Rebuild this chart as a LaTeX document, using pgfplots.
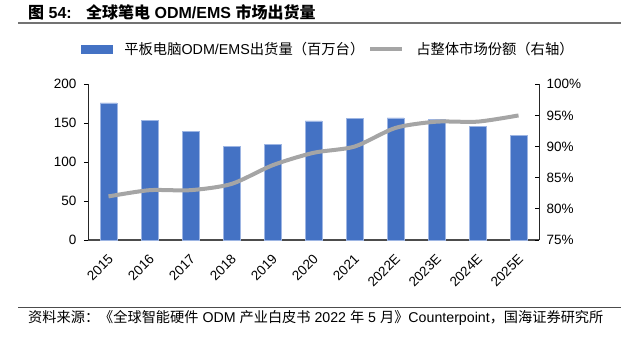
\documentclass[border=0pt]{standalone}
\usepackage{pgfplots}
\pgfplotsset{compat=1.18}
\usepackage{fontspec}
\setmainfont{Liberation Sans}
\newfontfamily\cjk{Noto Sans CJK SC}
\definecolor{barblue}{HTML}{4472C4}
\definecolor{baredge}{HTML}{9DB5E3}
\definecolor{linegray}{HTML}{A5A5A5}
\begin{document}
\begin{tikzpicture}
\useasboundingbox (0pt,0pt) rectangle (621pt,338pt);
% title
\node[anchor=west, inner sep=0pt, font=\fontsize{16}{18}\selectfont\bfseries] at (28pt,325.5pt)
  {{\cjk 图} 54:\hspace{0.9em}{\cjk 全球笔电} ODM/EMS {\cjk 市场出货量}};
\draw[color=black!55, line width=2pt] (18pt,315pt) -- (621pt,315pt);
% footer
\draw[color=black!70, line width=0.8pt] (18pt,30.8pt) -- (621pt,30.8pt);
\node[anchor=west, inner sep=0pt, font=\fontsize{14.2}{16}\selectfont] at (28pt,20pt)
  {{\cjk 资料来源：《全球智能硬件} ODM {\cjk 产业白皮书} 2022 {\cjk 年} 5 {\cjk 月》}Counterpoint{\cjk ，国海证券研究所}};
\begin{axis}[
  at={(88pt,98pt)}, anchor=south west, scale only axis,
  width=451pt, height=155.7pt,
  xmin=-0.5, xmax=10.5, ymin=0, ymax=200,
  ytick={0,50,100,150,200},
  xtick={0,...,10},
  xticklabels={2015,2016,2017,2018,2019,2020,2021,2022E,2023E,2024E,2025E},
  axis y line*=left, axis x line*=bottom,
  axis line style={black!85, line width=1pt, -},
  x axis line style={black!70, line width=1.2pt},
  major tick length=4pt,
  xtick style={draw=none},
  ytick style={black, line width=0.8pt},
  tick align=outside,
  /pgf/number format/assume math mode=true,
  tick label style={font=\fontsize{13.5}{16}\selectfont},
  yticklabel style={xshift=-4pt},
  xticklabel style={xshift=3pt, yshift=-12pt, rotate=45, anchor=east, inner sep=1pt},
  clip=false,
]
\addplot[ybar, bar width=16.7pt, fill=barblue, draw=baredge, line width=0.4pt]
  coordinates {(0,176) (1,154) (2,140) (3,120) (4,123) (5,153) (6,156) (7,157) (8,155) (9,146) (10,134)};
\end{axis}
\begin{axis}[
  at={(88pt,98pt)}, anchor=south west, scale only axis,
  width=451pt, height=155.7pt,
  xmin=-0.5, xmax=10.5, ymin=75, ymax=100,
  ytick={75,80,85,90,95,100},
  yticklabel={\pgfmathprintnumber{\tick}\%},
  axis y line*=right, axis x line=none,
  axis line style={black!85, line width=1pt, -},
  major tick length=4pt,
  ytick style={black, line width=0.8pt},
  tick align=inside,
  /pgf/number format/assume math mode=true,
  tick label style={font=\fontsize{13.5}{16}\selectfont},
  yticklabel style={xshift=4pt},
  clip=false,
  legend style={at={(rel axis cs:-0.016,1.227)}, anchor=west, draw=none, fill=none,
    inner sep=0pt, legend columns=2, font=\fontsize{14.3}{16}\selectfont,
    /tikz/every even column/.style={column sep=2pt},
    /tikz/every odd column/.style={column sep=10pt},
    legend cell align=left},
]
\addlegendimage{legend image code/.code={\fill[barblue] (0pt,-4pt) rectangle (31pt,4pt);}}
\addlegendentry{{\cjk 平板电脑}ODM/EMS{\cjk 出货量（百万台）}}
\addplot[linegray, line width=4pt, smooth, tension=0.45,
  legend image code/.code={\draw[linegray, line width=4pt] (0pt,0pt) -- (32pt,0pt);}]
  coordinates {(0,82) (1,83) (2,83) (3,84) (4,87) (5,89) (6,90) (7,93) (8,94) (9,94) (10,95)};
\addlegendentry{{\cjk 占整体市场份额（右轴）}}
\end{axis}
\end{tikzpicture}
\end{document}
